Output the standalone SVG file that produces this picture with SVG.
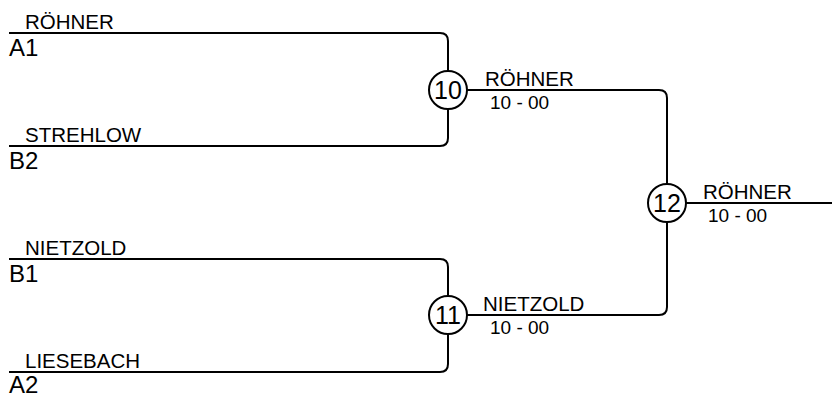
<svg xmlns="http://www.w3.org/2000/svg" width="832" height="396" viewBox="0 0 832 396">
<style>
.ln{fill:none;stroke:#000;stroke-width:2}
.c{fill:#fff;stroke:#000;stroke-width:2}
text{font-family:"Liberation Sans",Arial,sans-serif;fill:#000}
.nm{font-size:20.5px}
.sc{font-size:19px}
.pos{font-size:24px}
.num{font-size:25px;text-anchor:middle}
</style>
<rect width="832" height="396" fill="#fff"/>
<g id="connectors">
<path class="ln" d="M9,33 H440 Q448,33 448,41 V71"/>
<path class="ln" d="M9,146 H440 Q448,146 448,138 V109"/>
<path class="ln" d="M9,259 H440 Q448,259 448,267 V296"/>
<path class="ln" d="M9,372 H440 Q448,372 448,364 V334"/>
<path class="ln" d="M467,90 H659 Q667,90 667,98 V184"/>
<path class="ln" d="M467,315 H659 Q667,315 667,307 V222"/>
<path class="ln" d="M686,203 H832"/>
</g>
<g id="entry-a1">
<text class="nm" x="25" y="29">RÖHNER</text>
<text class="pos" x="9" y="56">A1</text>
</g>
<g id="entry-b2">
<text class="nm" x="25" y="142">STREHLOW</text>
<text class="pos" x="9" y="169">B2</text>
</g>
<g id="entry-b1">
<text class="nm" x="25" y="255">NIETZOLD</text>
<text class="pos" x="9" y="282">B1</text>
</g>
<g id="entry-a2">
<text class="nm" x="25" y="368">LIESEBACH</text>
<text class="pos" x="9" y="393">A2</text>
</g>
<g id="match-10">
<circle class="c" cx="448" cy="90" r="19"/>
<text class="num" x="448" y="99">10</text>
<text class="nm" x="485" y="86">RÖHNER</text>
<text class="sc" x="490" y="109">10 - 00</text>
</g>
<g id="match-11">
<circle class="c" cx="448" cy="315" r="19"/>
<text class="num" x="448" y="324">11</text>
<text class="nm" x="483" y="311">NIETZOLD</text>
<text class="sc" x="490" y="334">10 - 00</text>
</g>
<g id="match-12">
<circle class="c" cx="667" cy="203" r="19"/>
<text class="num" x="667" y="212">12</text>
<text class="nm" x="703" y="199">RÖHNER</text>
<text class="sc" x="708" y="222">10 - 00</text>
</g>
</svg>
